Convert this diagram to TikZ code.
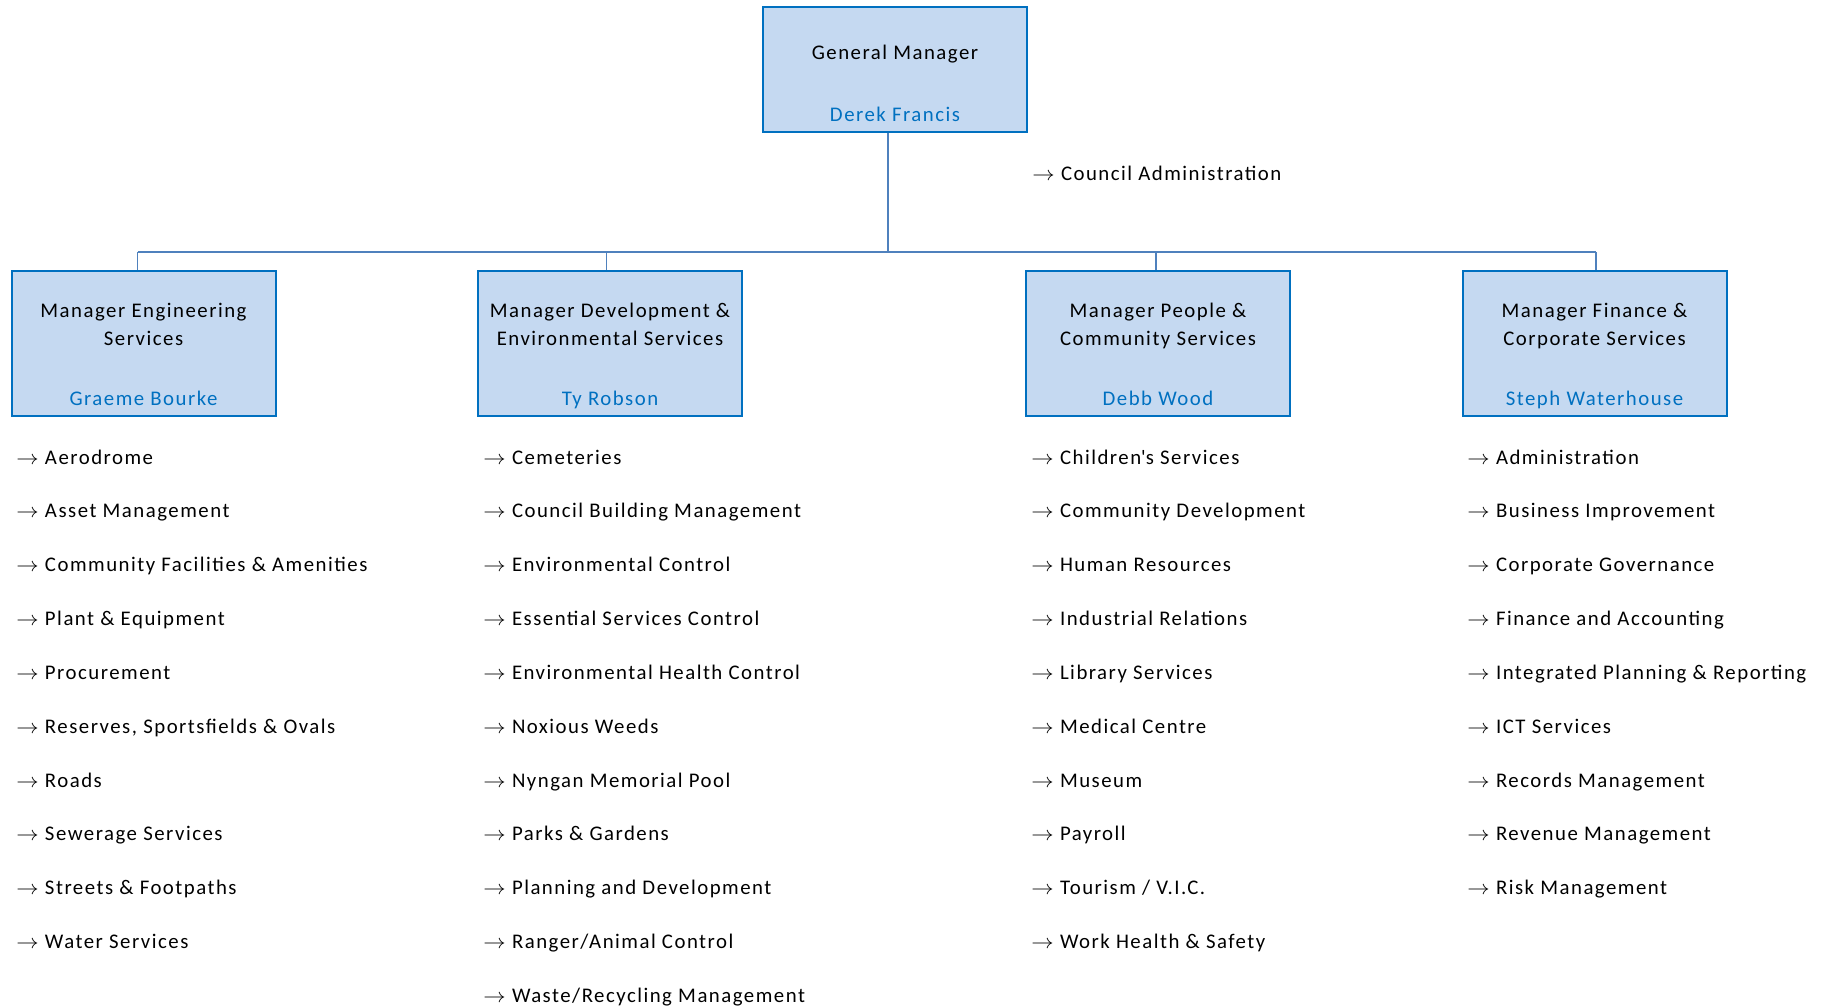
\documentclass[tikz,border=0pt]{standalone}
\usepackage{fontspec}
\setmainfont{Carlito}[LetterSpace=7.2]
\usetikzlibrary{calc}
\definecolor{boxfill}{HTML}{C5D9F1}
\definecolor{boxline}{HTML}{0070C0}
\definecolor{nameblue}{HTML}{0070C0}
\definecolor{connblue}{HTML}{4F81BD}
\newcommand{\itemarrow}{\scalebox{1.12}[1]{$\rightarrow$}}
\tikzset{
  mgrbox/.style={draw=boxline, fill=boxfill, line width=1pt, minimum width=132pt, minimum height=72.5pt, inner sep=0pt},
  gmbox/.style={mgrbox, minimum height=62pt},
  titletext/.style={font=\fontsize{10.4pt}{14pt}\selectfont, align=center, inner sep=0pt, anchor=base},
  nametext/.style={font=\fontsize{10.4pt}{12.5pt}\selectfont, text=nameblue, inner sep=0pt, anchor=base},
  itemtext/.style={font=\fontsize{10.4pt}{12.5pt}\selectfont, anchor=base west, inner sep=0pt},
  conn/.style={draw=connblue, line width=0.75pt}
}
\begin{document}
\begin{tikzpicture}[x=0.5pt, y=-0.5pt]
\useasboundingbox (0,0) rectangle (1829,1006);
% general manager
\node[gmbox] (gm) at (895,69.5) {};
\node[titletext] (gmt) at (895,59.5) {General Manager};
\node[nametext] (gmn) at (895,121) {Derek Francis};
\node[itemtext] (ca) at (1032,180) {\itemarrow\ Council Administration};
% managers
\node[mgrbox] (eng) at (143.5,343) {};
\node[mgrbox] (dev) at (610,343) {};
\node[mgrbox] (peo) at (1158,343) {};
\node[mgrbox] (fin) at (1594.5,343) {};
\node[titletext] (engt) at (143.5,345) {Manager Engineering\\Services};
\node[titletext] (devt) at (610,345) {Manager Development \&\\Environmental Services};
\node[titletext] (peot) at (1158,345) {Manager People \&\\Community Services};
\node[titletext] (fint) at (1594.5,345) {Manager Finance \&\\Corporate Services};
\node[nametext] (engn) at (143.5,405) {Graeme Bourke};
\node[nametext] (devn) at (610,405) {Ty Robson};
\node[nametext] (peon) at (1158,405) {Debb Wood};
\node[nametext] (finn) at (1594.5,405) {Steph Waterhouse};
% connectors
\coordinate (bus) at (888,252);
\coordinate (de) at (137.6,252);
\coordinate (dd) at (606.6,252);
\coordinate (dp) at (1156,252);
\coordinate (df) at (1595.8,252);
\draw[conn] (gm.south -| bus) -- (bus);
\draw[conn] (de) -- (df);
\draw[conn] (de) -- (de |- eng.north);
\draw[conn] (dd) -- (dd |- dev.north);
\draw[conn] (dp) -- (dp |- peo.north);
\draw[conn] (df) -- (df |- fin.north);
% lists
\foreach \t [count=\i] in {Aerodrome, Asset Management, Community Facilities \& Amenities, Plant \& Equipment, Procurement, {Reserves, Sportsfields \& Ovals}, Roads, Sewerage Services, Streets \& Footpaths, Water Services}
  \node[itemtext] (e\i) at (16,{464+53.85*(\i-1)}) {\itemarrow\ \t};
\foreach \t [count=\i] in {Cemeteries, Council Building Management, Environmental Control, Essential Services Control, Environmental Health Control, Noxious Weeds, Nyngan Memorial Pool, Parks \& Gardens, Planning and Development, Ranger/Animal Control, Waste/Recycling Management}
  \node[itemtext] (d\i) at (483,{464+53.85*(\i-1)}) {\itemarrow\ \t};
\foreach \t [count=\i] in {Children\textquotesingle s Services, Community Development, Human Resources, Industrial Relations, Library Services, Medical Centre, Museum, Payroll, Tourism / V.I.C., Work Health \& Safety}
  \node[itemtext] (p\i) at (1031,{464+53.85*(\i-1)}) {\itemarrow\ \t};
\foreach \t [count=\i] in {Administration, Business Improvement, Corporate Governance, Finance and Accounting, Integrated Planning \& Reporting, ICT Services, Records Management, Revenue Management, Risk Management}
  \node[itemtext] (f\i) at (1467,{464+53.85*(\i-1)}) {\itemarrow\ \t};
\end{tikzpicture}
\end{document}
